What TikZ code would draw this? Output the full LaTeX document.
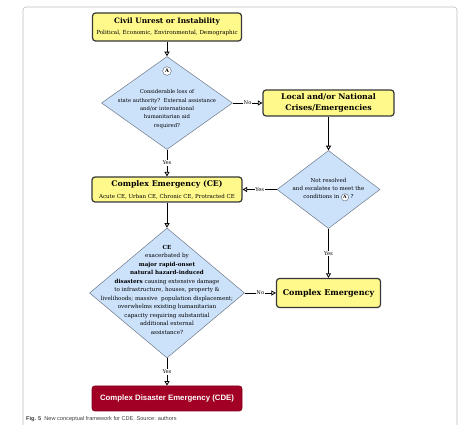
\documentclass[tikz,border=0pt]{standalone}
\usepackage{fontspec}
\setmainfont{DejaVu Serif}
\newfontfamily\capfont{Liberation Sans}
\usetikzlibrary{shapes.geometric,arrows.meta}
\definecolor{boxyellow}{RGB}{255,249,140}
\definecolor{boxborder}{RGB}{55,55,55}
\definecolor{diamblue}{RGB}{204,225,250}
\definecolor{diamborder}{RGB}{110,120,135}
\definecolor{cdered}{RGB}{162,0,36}
\definecolor{framegray}{RGB}{190,190,190}
\newcommand{\fs}[2]{\fontsize{#1}{#2}\selectfont}
\newcommand{\circA}{\tikz[baseline=(cA.base)]\node[circle,draw=diamborder,line width=0.5pt,fill=white,inner sep=0.9pt,font=\bfseries\fs{4.5}{4.5}](cA){A};}
\begin{document}
\begin{tikzpicture}[x=1pt,y=-1pt,
  ybox/.style={draw=boxborder,line width=1.2pt,fill=boxyellow,rounded corners=3pt,align=center,inner sep=0pt},
  diam/.style={diamond,draw=diamborder,line width=0.5pt,fill=diamblue,inner sep=0pt,aspect=1},
  dtext/.style={align=center,inner sep=0pt},
  conn/.style={line width=0.8pt,-{Triangle[open,length=4.5pt,width=5pt]}},
  lab/.style={fill=white,inner sep=0.8pt,font=\fs{5.2}{6}}]
\useasboundingbox (0,0) rectangle (467,425);
\draw[framegray,line width=0.6pt,rounded corners=3pt] (23,440) -- (23,7) -- (457,7) -- (457,440);

\node[ybox,minimum width=149pt,minimum height=28pt] (civil) at (167,27)
  {{\bfseries\fs{7.4}{8}Civil Unrest or Instability}\\[-0.5pt]{\fs{5.6}{6}Political, Economic, Environmental, Demographic}};

\node[diam,minimum width=131pt,minimum height=93pt] (d1) at (167,103) {};
\node[circle,draw=diamborder,line width=0.5pt,fill=white,inner sep=1.2pt,font=\bfseries\fs{5}{5}] (cA1) at (167,71) {A};
\node[dtext,font=\fs{5.3}{8.3}] (d1t) at (167,109) {Considerable loss of\\state authority?\ \ External assistance\\and/or international\\humanitarian aid\\required?};

\node[ybox,minimum width=131pt,minimum height=26pt,font=\bfseries\fs{7.8}{11}] (local) at (328.5,103) {Local and/or National\\Crises/Emergencies};

\node[diam,minimum width=103pt,minimum height=78pt] (d2) at (328.5,189.5) {};
\node[dtext,font=\fs{5.5}{8}] (d2t) at (328.5,190) {Not resolved\\and escalates to meet the\\conditions in \circA\ ?};

\node[ybox,minimum width=150pt,minimum height=25pt] (ce) at (167,189.5)
  {{\bfseries\fs{7.8}{9}Complex Emergency (CE)}\\{\fs{5.5}{6}Acute CE, Urban CE, Chronic CE, Protracted CE}};

\node[diam,minimum width=155pt,minimum height=130pt] (d3) at (167,293) {};
\node[dtext,font=\fs{5.6}{8.5}] (d3t) at (167,289.5) {\textbf{CE}\\exacerbated by\\\textbf{major rapid-onset}\\\textbf{natural hazard-induced}\\\textbf{disasters} causing extensive damage\\to infrastructure, houses, property \&\\livelihoods; massive\ \ population displacement;\\overwhelms existing humanitarian\\capacity requiring substantial\\additional external\\assistance?};

\node[ybox,minimum width=104pt,minimum height=29pt,font=\bfseries\fs{8}{9}] (cem) at (328.5,293) {Complex Emergency};

\node[draw=cdered!80!black,line width=0.8pt,fill=cdered,rounded corners=3pt,minimum width=150pt,minimum height=25pt,inner sep=0pt,text=white,font=\capfont\bfseries\fs{7.8}{9}] (cde) at (167,398.5) {Complex Disaster Emergency (CDE)};

\node[anchor=base west,inner sep=0pt,text=black!75,font=\capfont\fs{5.6}{7}] (cap) at (26,421) {\textbf{Fig. 5}\ \ New conceptual framework for CDE. Source: authors};

\draw[conn] (civil) -- (d1);
\draw[conn] (d1) -- node[lab]{No} (local);
\draw[conn] (local) -- (d2);
\draw[conn] (d2) -- node[lab]{Yes} (ce);
\draw[conn] (d1) -- node[lab]{Yes} (ce);
\draw[conn] (ce) -- (d3);
\draw[conn] (d3) -- node[lab]{No} (cem);
\draw[conn] (d2) -- node[lab]{Yes} (cem);
\draw[conn] (d3) -- node[lab]{Yes} (cde);
\end{tikzpicture}
\end{document}
